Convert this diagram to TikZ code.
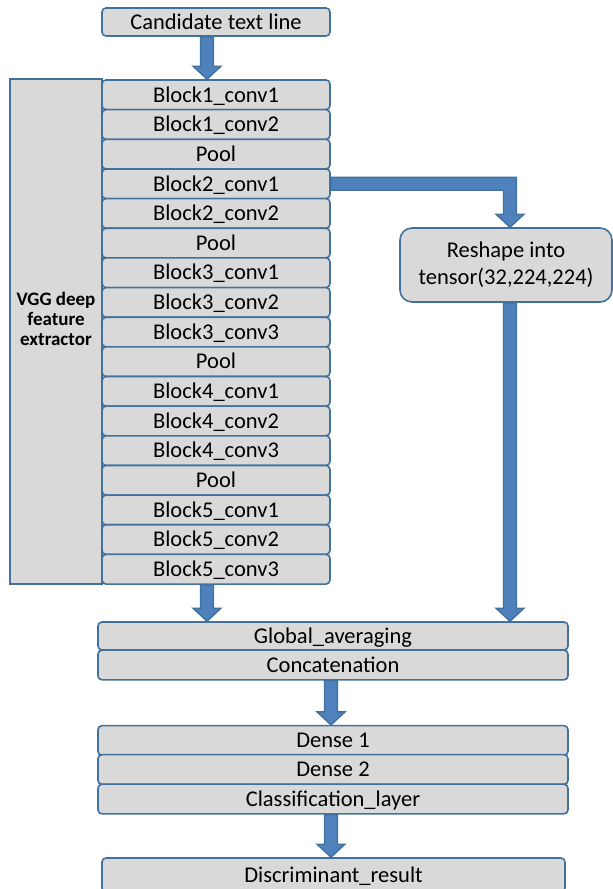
\documentclass[tikz,border=0pt]{standalone}
\usepackage{fontspec}
\setmainfont{Carlito}
\usetikzlibrary{calc}
\definecolor{boxgray}{RGB}{217,217,217}
\definecolor{edgeblue}{RGB}{65,113,156}
\definecolor{arrowblue}{RGB}{79,129,189}
\tikzset{
  layer/.style={draw=edgeblue, fill=boxgray, line width=1.6pt, rounded corners=4pt,
    inner sep=0pt, minimum width=228pt, minimum height=29.65pt,
    text height=15.5pt, text depth=1pt, font=\fontsize{22.5}{27}\selectfont},
  widelayer/.style={layer, minimum width=470pt},
  fatarrow/.style={draw=edgeblue, fill=arrowblue, line width=1.4pt, line join=miter},
}
% block arrow straight down, #1 start, #2 tip
\newcommand{\fatdown}[2]{%
  \draw[fatarrow] ($(#1)+(-6.5,0)$) -- ($(#2)+(-6.5,-13)$) -- ($(#2)+(-14,-13)$) -- (#2)
    -- ($(#2)+(14,-13)$) -- ($(#2)+(6.5,-13)$) -- ($(#1)+(6.5,0)$) -- cycle;}

\begin{document}
\begin{tikzpicture}[x=1pt, y=-1pt]
    \useasboundingbox (0,0) rectangle (613,889);
    \coordinate (lcol) at (207,0);
    \coordinate (mcol) at (331,0);
    \coordinate (rcol) at (510,0);

    \node[layer, minimum height=28pt] (cand) at (216,22) {Candidate text line};

    % VGG part
    \draw[draw=edgeblue, fill=boxgray, line width=1.6pt] (10,79) rectangle (102,584);
    \node[align=center, font=\fontsize{19}{20}\selectfont\bfseries] (vgg) at (56,319)
        {VGG deep\\feature\\extractor};
    \foreach \name [count=\i] in {Block1\_conv1, Block1\_conv2, Pool, Block2\_conv1,
        Block2\_conv2, Pool, Block3\_conv1, Block3\_conv2, Block3\_conv3, Pool,
        Block4\_conv1, Block4\_conv2, Block4\_conv3, Pool, Block5\_conv1,
        Block5\_conv2, Block5\_conv3}
        \node[layer] (r\i) at ({216},{80+(\i-0.5)*29.65}) {\name};

    \node[layer, minimum width=212pt, minimum height=74pt, rounded corners=12pt,
        align=center, text height=, text depth=, font=\fontsize{22.5}{27}\selectfont]
        (reshape) at (506,265) {Reshape into\\tensor(32,224,224)};

    \node[widelayer, minimum height=28pt] (glob) at (333,636) {Global\_averaging};
    \node[widelayer] (concat) at (333,665) {Concatenation};
    \node[widelayer] (dense1) at (333,740.5) {Dense 1};
    \node[widelayer] (dense2) at (333,769.5) {Dense 2};
    \node[widelayer] (classif) at (333,799) {Classification\_layer};
    \node[widelayer, minimum width=463pt, minimum height=34pt] (result) at (333.5,875)
        {Discriminant\_result};

    % arrows
    \fatdown{cand.south -| lcol}{r1.north -| lcol}
    \fatdown{r17.south -| lcol}{glob.north -| lcol}
    \fatdown{reshape.south -| rcol}{glob.north -| rcol}
    \fatdown{concat.south -| mcol}{dense1.north -| mcol}
    \fatdown{classif.south -| mcol}{result.north -| mcol}

    \coordinate (bend) at (r4.east -| rcol);
    \coordinate (rtip) at (reshape.north -| rcol);
    \draw[fatarrow] ($(r4.east)+(0,-6.5)$) -- ($(bend)+(6.5,-6.5)$) -- ($(rtip)+(6.5,-13)$)
        -- ($(rtip)+(14,-13)$) -- (rtip) -- ($(rtip)+(-14,-13)$) -- ($(rtip)+(-6.5,-13)$)
        -- ($(bend)+(-6.5,6.5)$) -- ($(r4.east)+(0,6.5)$) -- cycle;
\end{tikzpicture}
\end{document}
